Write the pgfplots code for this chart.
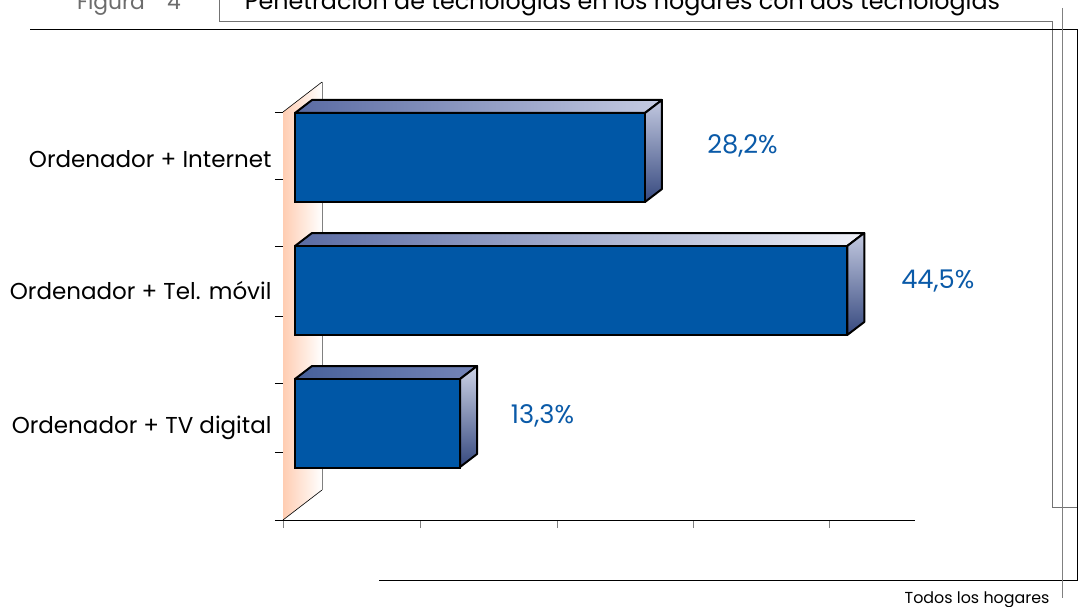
\documentclass[border=0pt]{standalone}
\usepackage{pgfplots}
\pgfplotsset{compat=1.18}
\usepackage{fontspec}
\setmainfont{Poppins}
\definecolor{barblue}{HTML}{0057A6}
\definecolor{labelblue}{HTML}{0A5AA8}
\definecolor{peach}{HTML}{FFCDB2}
\definecolor{topa}{HTML}{5A6BA3}
\definecolor{topb}{HTML}{C5CBE2}
\definecolor{topc}{HTML}{F0F1F8}
\definecolor{topd}{HTML}{47609A}
\definecolor{tope}{HTML}{7585B8}
\definecolor{sidea}{HTML}{C3C9E0}
\definecolor{sideb}{HTML}{36497F}
\definecolor{sidec}{HTML}{CDD3E6}
\begin{document}
\begin{tikzpicture}[x=1pt,y=1pt]
\path[use as bounding box,clip] (0,0) rectangle (1078,606);
% frame lines
\draw[gray!90!black,line width=0.9pt] (219,606) -- (219,585) -- (1052,585) -- (1052,99) -- (1078,99);
\draw[black,line width=0.9pt] (30,576.5) -- (1077,576.5) -- (1077,26) -- (379,26);
\draw[gray,line width=1.3pt] (1062.5,598) -- (1062.5,8);
\node[anchor=base,text=gray!85!black,font=\fontsize{21.8}{24}\selectfont] at (111,596) {Figura};
\node[anchor=base,text=gray!85!black,font=\fontsize{21.8}{24}\selectfont] at (174,596) {4};
\node[anchor=base,font=\fontsize{23.8}{26}\selectfont] at (622.5,596) {Penetración de tecnologías en los hogares con dos tecnologías};
\node[anchor=base east,font=\fontsize{15.9}{18}\selectfont] at (1053,3) {Todos los hogares};
\begin{axis}[
  at={(283pt,86pt)},anchor=south west,
  scale only axis,width=632pt,height=408pt,
  xmin=-0.967,xmax=49.96,ymin=86,ymax=494,
  clip=false,
  axis x line*=bottom,axis y line*=left,
  axis line style={-,line width=0.9pt},
  x axis line style={black},
  y axis line style={gray},
  tick align=outside,major tick length=8pt,
  tick style={line width=0.9pt},
  x tick style={gray},
  y tick style={black},
  xtick={-0.967,10.07,21.11,32.07,43.1},
  xticklabels={},
  ytick={86,154,223,290,360,427,494},
  yticklabels={},
  extra y ticks={178,315,447},
  extra y tick labels={Ordenador + TV digital,Ordenador + Tel. móvil,Ordenador + Internet},
  extra y tick style={major tick length=0pt,yticklabel style={anchor=east,xshift=-8pt,font=\fontsize{23}{25}\selectfont}},
  bar width=89pt,bar shift=0pt,
]
% back wall
\addplot[draw=none,left color=peach,right color=white] coordinates {(-0.967,494) (2.176,524) (2.176,116) (-0.967,86)} -- cycle;
\addplot[black,line width=0.6pt] coordinates {(-0.967,494) (2.176,524)};
\addplot[black,line width=0.6pt] coordinates {(-0.967,86) (2.176,116)};
\addplot[gray,line width=0.9pt] coordinates {(2.176,524) (2.176,116)};
% bar 1 Internet
\addplot[draw=black,line width=2pt,line join=round,left color=topa,right color=topb] coordinates {(0,493) (28.2,493) (29.57,506) (1.37,506)} -- cycle;
\addplot[draw=black,line width=2pt,line join=round,top color=sidea,bottom color=sideb] coordinates {(28.2,493) (29.57,506) (29.57,417) (28.2,404)} -- cycle;
% bar 2 movil
\addplot[draw=black,line width=2pt,line join=round,left color=topa,right color=topc] coordinates {(0,360) (44.5,360) (45.87,373) (1.37,373)} -- cycle;
\addplot[draw=black,line width=2pt,line join=round,top color=sidea,bottom color=sideb] coordinates {(44.5,360) (45.87,373) (45.87,284) (44.5,271)} -- cycle;
% bar 3 TV
\addplot[draw=black,line width=2pt,line join=round,left color=topd,right color=tope] coordinates {(0,227) (13.3,227) (14.67,240) (1.37,240)} -- cycle;
\addplot[draw=black,line width=2pt,line join=round,top color=sidec,bottom color=sideb] coordinates {(13.3,227) (14.67,240) (14.67,152) (13.3,139)} -- cycle;
% front faces
\addplot[xbar,draw=black,line width=2pt,fill=barblue] coordinates {(28.2,448.5) (44.5,315.5) (13.3,183)};
\node[anchor=base,text=labelblue,font=\fontsize{25.7}{28}\selectfont] at (axis cs:36.06,452) {28,2\%};
\node[anchor=base,text=labelblue,font=\fontsize{25.7}{28}\selectfont] at (axis cs:51.8,318) {44,5\%};
\node[anchor=base,text=labelblue,font=\fontsize{25.7}{28}\selectfont] at (axis cs:19.94,183) {13,3\%};
\end{axis}
\end{tikzpicture}
\end{document}
